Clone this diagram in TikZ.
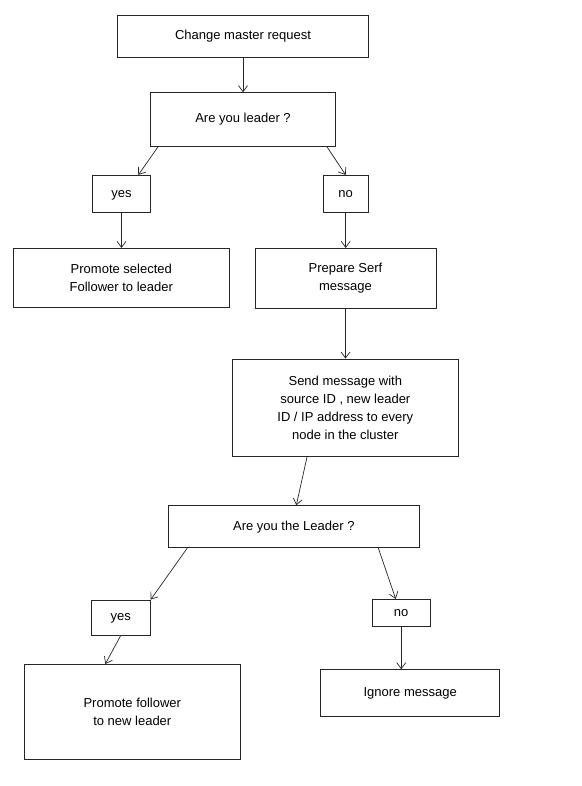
\documentclass[tikz,border=0pt]{standalone}
\usepackage{fontspec}
\setmainfont{Liberation Sans}
\usepackage{tikz}
\usetikzlibrary{arrows.meta, positioning, calc}

\begin{document}
\begin{tikzpicture}[
  x=1pt, y=-1pt,
  box/.style 2 args={draw=black!85, line width=0.8pt, minimum width=#1, minimum height=#2, align=center, inner sep=2pt, font=\fontsize{13}{18}\selectfont},
  oneline/.style={text height=9.4pt, text depth=2.6pt},
  arr/.style={-{Straight Barb[length=6pt, width=9pt]}, line width=0.7pt, draw=black!85},
]
\useasboundingbox (0,0) rectangle (581,786);

% Boxes
\node[box={250.7pt}{41.6pt}, oneline] (request) at (243, 36.5) {Change master request};
\node[box={185.3pt}{53.3pt}, oneline] (leader) at (243, 119.3) {Are you leader ?};
\node[box={57.7pt}{36.7pt}, oneline] (yesA) at (121.5, 193.7) {yes};
\node[box={45.3pt}{36.7pt}, oneline] (noA) at (345.7, 193.7) {no};
\node[box={216pt}{59.3pt}] (promote) at (121.3, 278) {Promote selected\\Follower to leader};
\node[box={181pt}{60pt}] (serf) at (345.5, 278.3) {Prepare Serf\\message};
\node[box={225.3pt}{97.7pt}] (send) at (345.3, 407.8) {Send message with\\source ID , new leader\\ID / IP address to every\\node in the cluster};
\node[box={250.3pt}{42pt}, oneline] (theleader) at (293.8, 526.7) {Are you the Leader ?};
\node[box={59pt}{35pt}, oneline] (yesB) at (120.8, 617.5) {yes};
\node[box={216pt}{94.7pt}] (newleader) at (132.3, 711.7) {Promote follower\\to new leader};
\node[box={58.3pt}{26.7pt}, oneline] (noB) at (401.2, 612.7) {no};
\node[box={179pt}{46.3pt}, oneline] (ignore) at (410.2, 692.8) {Ignore message};

% Arrows
\draw[arr] (request) -- (leader);
\draw[arr] ([xshift=8.4pt]leader.south west) -- ([xshift=16.8pt]yesA.north);
\draw[arr] ([xshift=-9.4pt]leader.south east) -- (noA.north);
\draw[arr] (yesA.south) -- (yesA.south |- promote.north);
\draw[arr] (noA.south) -- (noA.south |- serf.north);
\draw[arr] (serf.south) -- (serf.south |- send.north);
\draw[arr] ([xshift=-38.3pt]send.south) -- ([xshift=2.5pt]theleader.north);
\draw[arr] ([xshift=19pt]theleader.south west) -- (yesB.north east);
\draw[arr] (yesB.south) -- ([xshift=-27pt]newleader.north);
\draw[arr] ([xshift=-41pt]theleader.south east) -- ([xshift=-5.5pt]noB.north);
\draw[arr] (noB.south) -- (noB.south |- ignore.north);

\end{tikzpicture}
\end{document}
